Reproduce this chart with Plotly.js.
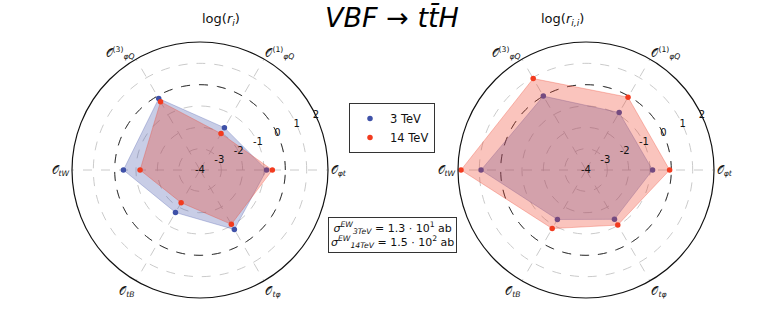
<!DOCTYPE html>
<html>
<head>
<meta charset="utf-8">
<script src="https://cdn.plot.ly/plotly-3.0.1.min.js"></script>
<style>html,body{margin:0;padding:0;background:#fff;}#chart{width:784px;height:314px;}</style>
</head>
<body>
<div id="chart"></div>
<script>
// ---- data ----
const operatorLabels = [
  "𝒪<sub><i>φt</i></sub>",
  "𝒪<sup>(1)</sup><sub><i>φQ</i></sub>",
  "𝒪<sup>(3)</sup><sub><i>φQ</i></sub>",
  "𝒪<sub><i>tW</i></sub>",
  "𝒪<sub><i>tB</i></sub>",
  "𝒪<sub><i>tφ</i></sub>"
];
const operatorAngles = [0, 60, 120, 180, 240, 300];
const radialTicks = [-4, -3, -2, -1, 0, 1, 2];
const radialTickText = ["-4", "-3", "-2", "-1", "0", "1", "2"];
const radialLabelAngle = 25;
const refLevel = 0;

// log(r_i)
const ri_3TeV  = [-0.88, -1.71, -0.13, -0.41, -1.70, -0.78];
const ri_14TeV = [-0.61, -2.03, -0.30, -1.19, -2.23, -1.06];
// log(r_ii)
const rii_3TeV  = [-0.88, -0.89, 0.00, 0.92, -1.32, -1.33];
const rii_14TeV = [-0.08, -0.06, 0.95, 1.86, -0.83, -1.02];

const seriesNames = ["3 TeV", "14 TeV"];
const blue = "#3f51a8", red = "#f23b1f";
const blueFill = "rgba(72,88,172,0.3)", redFill = "rgba(240,60,35,0.3)";

function closed(a){ return a.concat([a[0]]); }

const traces = [];
function addRef(sub){
  const th = [];
  for (let t = 0; t <= 360; t += 3) th.push(t);
  traces.push({type:"scatterpolar", subplot:sub, r:th.map(()=>refLevel), theta:th,
    mode:"lines", line:{color:"#333", width:1, dash:"dash"}, hoverinfo:"skip", showlegend:false});
}
function addSeries(sub, vals, col, fillCol, name, legend){
  traces.push({type:"scatterpolar", subplot:sub, r:closed(vals), theta:closed(operatorAngles),
    mode:"lines", fill:"toself", fillcolor:fillCol, line:{color:fillCol, width:1},
    hoverinfo:"skip", showlegend:false});
  traces.push({type:"scatterpolar", subplot:sub, r:vals, theta:operatorAngles,
    mode:"markers", marker:{color:col, size:5.5}, name:name, showlegend:legend});
}
function addTickLabels(sub){
  traces.push({type:"scatterpolar", subplot:sub, r:radialTicks, theta:radialTicks.map(()=>radialLabelAngle),
    mode:"text", text:radialTickText, textposition:"middle center",
    textfont:{size:10, color:"#111", family:"DejaVu Sans"}, hoverinfo:"skip", showlegend:false, cliponaxis:false});
}
addRef("polar");
addSeries("polar", ri_3TeV, blue, blueFill, seriesNames[0], true);
addSeries("polar", ri_14TeV, red, redFill, seriesNames[1], true);
addTickLabels("polar");
addRef("polar2");
addSeries("polar2", rii_3TeV, blue, blueFill, seriesNames[0], false);
addSeries("polar2", rii_14TeV, red, redFill, seriesNames[1], false);
addTickLabels("polar2");

function polarCfg(dx){
  return {
    domain:{x:dx, y:[16/314, 272/314]},
    bgcolor:"rgba(0,0,0,0)",
    radialaxis:{range:[-4,2], tickvals:radialTicks, showticklabels:false,
      angle:22.5, showline:false, ticks:"",
      gridcolor:"#bdbdbd", griddash:"dash", gridwidth:0.8},
    angularaxis:{type:"linear", thetaunit:"degrees", direction:"counterclockwise", rotation:0,
      tickvals:operatorAngles, ticktext:operatorLabels, showline:true, linecolor:"#111", linewidth:1.2,
      ticks:"", gridcolor:"#bdbdbd", griddash:"dash", gridwidth:0.8, tickfont:{size:11, color:"#111"}}
  };
}

const layout = {
  width:784, height:314,
  margin:{l:0, r:0, t:0, b:0},
  paper_bgcolor:"#fff",
  font:{family:"DejaVu Sans", color:"#111"},
  title:{text:"<i>VBF → tt̄H</i>", x:0.5, xanchor:"center", y:1-18/314, yanchor:"middle",
    font:{size:27, family:"DejaVu Sans", color:"#000"}},
  polar:polarCfg([72/784, 328/784]),
  polar2:polarCfg([458/784, 714/784]),
  showlegend:true,
  legend:{x:349/784, y:1-103/314, xanchor:"left", yanchor:"top", bordercolor:"#333", borderwidth:1,
    bgcolor:"#fff", font:{size:11.5}, itemwidth:30, tracegroupgap:0},
  annotations:[
    {text:"log(<i>r<sub>i</sub></i>)", xref:"paper", yref:"paper", x:200/784, y:1-20/314,
      yanchor:"middle", showarrow:false, font:{size:13}},
    {text:"log(<i>r<sub>i,i</sub></i>)", xref:"paper", yref:"paper", x:586/784, y:1-20/314,
      yanchor:"middle", showarrow:false, font:{size:13}},
    {text:"<i>σ</i><sup><i>EW</i></sup><sub><i>3TeV</i></sub> = 1.3 · 10<sup>1</sup> ab<br><i>σ</i><sup><i>EW</i></sup><sub><i>14TeV</i></sub> = 1.5 · 10<sup>2</sup> ab",
      xref:"paper", yref:"paper", x:392/784, y:1-235/314, yanchor:"middle", showarrow:false, font:{size:11},
      bordercolor:"#333", borderwidth:1, borderpad:2, bgcolor:"#fff", align:"center"}
  ]
};

Plotly.newPlot("chart", traces, layout, {displayModeBar:false, staticPlot:true});
</script>
</body>
</html>
